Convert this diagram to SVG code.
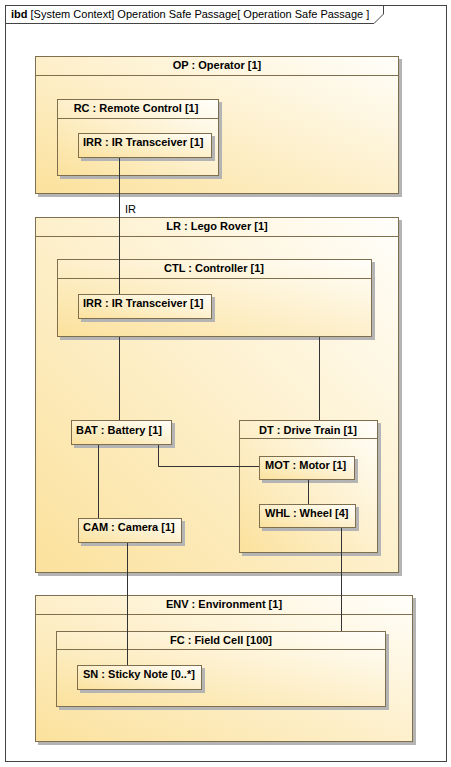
<svg xmlns="http://www.w3.org/2000/svg" width="451" height="767" viewBox="0 0 451 767">
<defs>
<linearGradient id="g" x1="0" y1="1" x2="1" y2="0">
<stop offset="0" stop-color="#fbe19c"/>
<stop offset="1" stop-color="#fffefa"/>
</linearGradient>
</defs>
<style>
.sh{fill:#b4b4b4}
.bx{fill:url(#g);stroke:#7f6f4f;stroke-width:1}
.hl{stroke:#7f6f4f;stroke-width:1}
.t{font-family:"Liberation Sans",Arial,sans-serif;font-size:11px;font-weight:bold;fill:#000}
.c{text-anchor:middle}
.cn{fill:none;stroke:#333;stroke-width:1}
.fr{fill:none;stroke:#444;stroke-width:1}
.ft{font-family:"Liberation Sans",Arial,sans-serif;font-size:11px;fill:#000}
</style>
<rect x="0" y="0" width="451" height="767" fill="#fff"/>
<g id="frame">
<rect class="fr" x="5.5" y="5.5" width="441" height="756"/>
<path class="fr" d="M5.5,23.5 H374 L383.5,14 V5.5"/>
<text class="ft" x="11" y="18"><tspan font-weight="bold">ibd</tspan> [System Context] Operation Safe Passage[ Operation Safe Passage ]</text>
</g>
<g id="OP">
<rect class="sh" x="38" y="59" width="364" height="138"/>
<rect class="bx" x="35.5" y="56.5" width="363" height="137"/>
<line class="hl" x1="35.5" y1="75.5" x2="398.5" y2="75.5"/>
<text class="t c" x="217" y="69">OP : Operator [1]</text>
</g>
<g id="RC">
<rect class="sh" x="60" y="102" width="162" height="77"/>
<rect class="bx" x="57.5" y="99.5" width="161" height="76"/>
<line class="hl" x1="57.5" y1="118.5" x2="218.5" y2="118.5"/>
<text class="t c" x="136" y="112">RC : Remote Control [1]</text>
</g>
<g id="RC_IRR">
<rect class="sh" x="81" y="136" width="134" height="25"/>
<rect class="bx" x="78.5" y="133.5" width="133" height="24"/>
<text class="t" x="83" y="146">IRR : IR Transceiver [1]</text>
</g>
<g id="LR">
<rect class="sh" x="38" y="220" width="364" height="356"/>
<rect class="bx" x="35.5" y="217.5" width="363" height="355"/>
<line class="hl" x1="35.5" y1="236.5" x2="398.5" y2="236.5"/>
<text class="t c" x="217" y="230">LR : Lego Rover [1]</text>
</g>
<g id="CTL">
<rect class="sh" x="60" y="262" width="315" height="78"/>
<rect class="bx" x="57.5" y="259.5" width="314" height="77"/>
<line class="hl" x1="57.5" y1="278.5" x2="371.5" y2="278.5"/>
<text class="t c" x="214" y="272">CTL : Controller [1]</text>
</g>
<g id="CTL_IRR">
<rect class="sh" x="81" y="297" width="134" height="25"/>
<rect class="bx" x="78.5" y="294.5" width="133" height="24"/>
<text class="t" x="83" y="307">IRR : IR Transceiver [1]</text>
</g>
<g id="BAT">
<rect class="sh" x="74" y="423" width="101" height="25"/>
<rect class="bx" x="71.5" y="420.5" width="100" height="24"/>
<text class="t" x="76" y="434">BAT : Battery [1]</text>
</g>
<g id="DT">
<rect class="sh" x="242" y="423" width="139" height="133"/>
<rect class="bx" x="239.5" y="420.5" width="138" height="132"/>
<line class="hl" x1="239.5" y1="438.5" x2="377.5" y2="438.5"/>
<text class="t c" x="308" y="434">DT : Drive Train [1]</text>
</g>
<g id="MOT">
<rect class="sh" x="262" y="459" width="96" height="24"/>
<rect class="bx" x="259.5" y="456.5" width="95" height="23"/>
<text class="t" x="265" y="469">MOT : Motor [1]</text>
</g>
<g id="WHL">
<rect class="sh" x="262" y="507" width="97" height="24"/>
<rect class="bx" x="259.5" y="504.5" width="96" height="23"/>
<text class="t" x="265" y="517">WHL : Wheel [4]</text>
</g>
<g id="CAM">
<rect class="sh" x="81" y="521" width="104" height="25"/>
<rect class="bx" x="78.5" y="518.5" width="103" height="24"/>
<text class="t" x="83" y="531">CAM : Camera [1]</text>
</g>
<g id="ENV">
<rect class="sh" x="38" y="598" width="378" height="147"/>
<rect class="bx" x="35.5" y="595.5" width="377" height="146"/>
<line class="hl" x1="35.5" y1="614.5" x2="412.5" y2="614.5"/>
<text class="t c" x="224" y="608">ENV : Environment [1]</text>
</g>
<g id="FC">
<rect class="sh" x="59" y="634" width="330" height="76"/>
<rect class="bx" x="56.5" y="631.5" width="329" height="75"/>
<line class="hl" x1="56.5" y1="649.5" x2="385.5" y2="649.5"/>
<text class="t c" x="221" y="644">FC : Field Cell [100]</text>
</g>
<g id="SN">
<rect class="sh" x="80" y="668" width="125" height="25"/>
<rect class="bx" x="77.5" y="665.5" width="124" height="24"/>
<text class="t" x="83" y="678">SN : Sticky Note [0..*]</text>
</g>
<g id="connectors">
<line class="cn" x1="119.5" y1="158" x2="119.5" y2="294"/>
<text class="ft" x="125" y="213">IR</text>
<line class="cn" x1="119.5" y1="337" x2="119.5" y2="420"/>
<line class="cn" x1="319.5" y1="337" x2="319.5" y2="420"/>
<polyline class="cn" points="158.5,445 158.5,466.5 259,466.5"/>
<line class="cn" x1="308.5" y1="480" x2="308.5" y2="504"/>
<line class="cn" x1="98.5" y1="445" x2="98.5" y2="518"/>
<line class="cn" x1="127.5" y1="543" x2="127.5" y2="665"/>
<line class="cn" x1="341.5" y1="528" x2="341.5" y2="631"/>
</g>
</svg>
